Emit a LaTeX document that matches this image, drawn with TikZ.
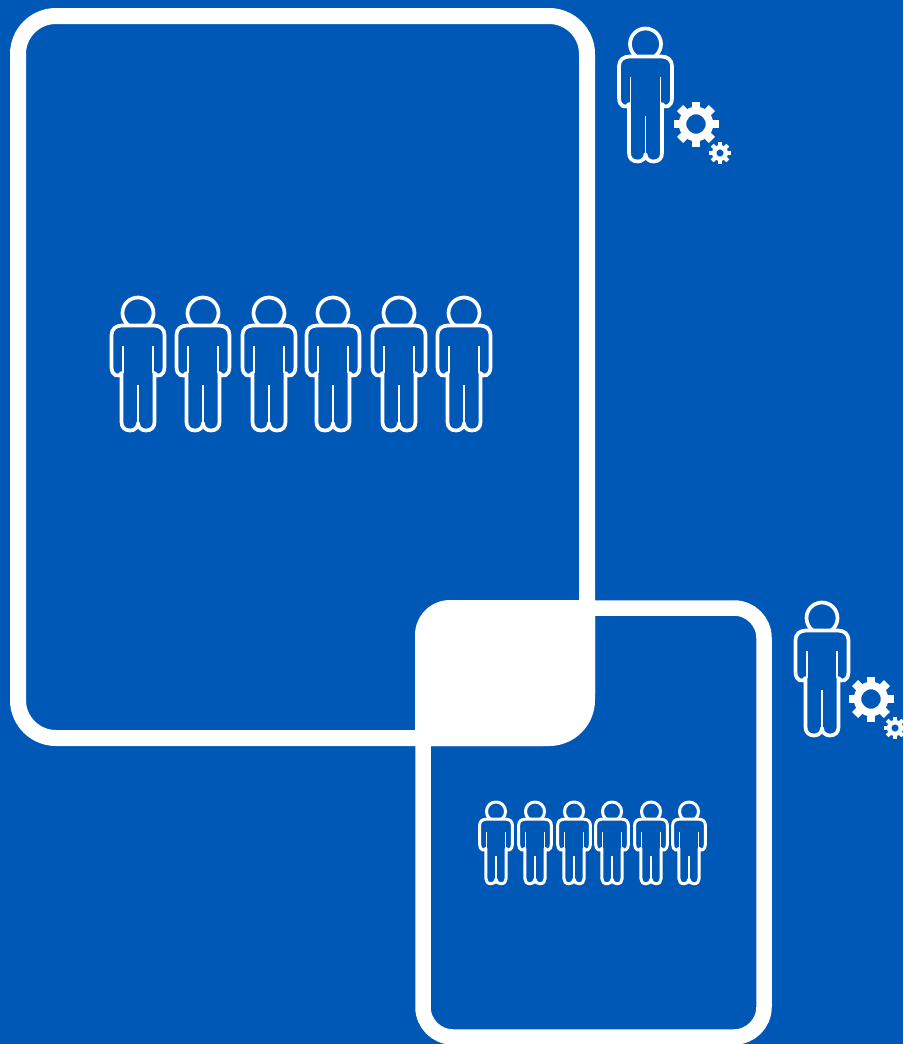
\documentclass[tikz,border=0pt]{standalone}
\definecolor{bluebg}{HTML}{0058B6}
\tikzset{
  frame/.style={draw=white,line width=16pt},
  plw/.initial=3.7pt,
  personline/.style={draw=white,line join=round,line cap=round,line width=\pgfkeysvalueof{/tikz/plw}},
  personpic/.pic={
    \draw[personline] (0,0) circle (15.5);
    \draw[personline,fill=bluebg]
      (0,110) .. controls (0,115) and (-4,117.5) .. (-8,117.5)
      .. controls (-13.5,117.5) and (-16.5,114) .. (-16.5,109) -- (-16.5,60)
      .. controls (-19,65) and (-26.5,63) .. (-26.5,54) -- (-26.5,22)
      .. controls (-26.5,16) and (-22,12.5) .. (-16,12.5) -- (16,12.5)
      .. controls (22,12.5) and (26.5,16) .. (26.5,22) -- (26.5,54)
      .. controls (26.5,63) and (19,65) .. (16.5,60) -- (16.5,109)
      .. controls (16.5,114) and (13.5,117.5) .. (8,117.5)
      .. controls (4,117.5) and (0,115) .. (0,110) -- cycle;
    \draw[draw=white,line width=1.3pt] (-15,33) -- (-15,60);
    \draw[draw=white,line width=1.3pt] (15,33) -- (15,60);
    \draw[draw=white,line width=1.6pt] (0,72) -- (0,110);
  },
  gearbig/.pic={
    \draw[draw=white,line width=7.5pt] (0,0) circle (13.5);
    \foreach \a in {0,45,...,315}{
      \draw[draw=white,line width=8.5pt] (\a:14) -- (\a:22.5);
    }
  },
  gearsmall/.pic={
    \draw[draw=white,line width=4.4pt] (0,0) circle (5.8);
    \foreach \a in {0,45,...,315}{
      \draw[draw=white,line width=4pt] (\a:6) -- (\a:11);
    }
  }
}
\begin{document}
\begin{tikzpicture}[x=1pt,y=-1pt]
\path[use as bounding box,fill=bluebg] (0,0) rectangle (903,1044);
% frames
\draw[frame] (18,54) arc[start angle=180,end angle=90,x radius=38,y radius=-38] -- (549,16)
  arc[start angle=90,end angle=0,x radius=38,y radius=-38] -- (587,700)
  arc[start angle=0,end angle=-90,x radius=38,y radius=-38] -- (56,738)
  arc[start angle=-90,end angle=-180,x radius=38,y radius=-38] -- cycle;
\draw[draw=white,line width=15.5pt] (423,640) arc[start angle=180,end angle=90,x radius=32,y radius=-32] -- (734,608)
  arc[start angle=90,end angle=0,x radius=30,y radius=-30] -- (764,1007)
  arc[start angle=0,end angle=-90,x radius=30,y radius=-30] -- (453,1037)
  arc[start angle=-90,end angle=-180,x radius=30,y radius=-30] -- cycle;
% overlap
\fill[white] (415,635) arc[start angle=180,end angle=90,x radius=35,y radius=-35] -- (595,600) -- (595,694)
  arc[start angle=0,end angle=-90,x radius=52,y radius=-52] -- (415,746) -- cycle;
% top manager
\pic at (645.5,44) {personpic};
\pic at (696,124) {gearbig};
\pic at (720,153) {gearsmall};
% second manager
\pic at (822,618) {personpic};
\pic at (871,699) {gearbig};
\pic at (895,728) {gearsmall};
% large row
\foreach \px in {138,203,269,333,399,464}{
  \pic at (\px,313) {personpic};
}
% small row
\foreach \px in {496,535,574,612,651,689}{
  \pic[transform shape,scale=0.615,plw=3pt] at (\px,811.5) {personpic};
}
\end{tikzpicture}
\end{document}
